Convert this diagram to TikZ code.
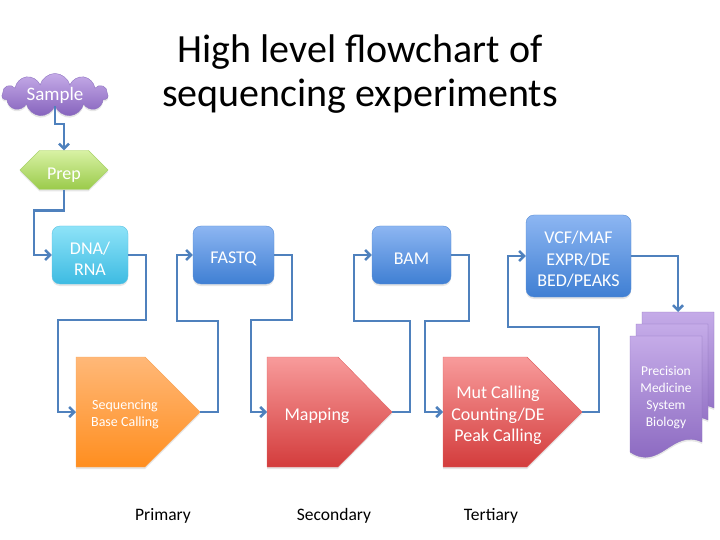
\documentclass[tikz,border=0pt]{standalone}
\usepackage{fontspec}
\setmainfont{Carlito}
\usepackage{xcolor}
\usepackage{tikz}
\usetikzlibrary{arrows.meta, positioning, calc, shapes.symbols, shadows}

\definecolor{linkblue}{HTML}{4F81BD}
\definecolor{cyanTop}{HTML}{8EE3F8}
\definecolor{cyanBot}{HTML}{3DBBE2}
\definecolor{cyanLine}{HTML}{5BC3E3}
\definecolor{blueTop}{HTML}{8DB6F2}
\definecolor{blueBot}{HTML}{3F7FD3}
\definecolor{blueLine}{HTML}{5A8FD6}
\definecolor{orangeTop}{HTML}{FFB878}
\definecolor{orangeBot}{HTML}{FF8E1F}
\definecolor{orangeLine}{HTML}{F9A659}
\definecolor{redTop}{HTML}{F89B9B}
\definecolor{redBot}{HTML}{D33C3C}
\definecolor{redLine}{HTML}{E06464}
\definecolor{purpleTop}{HTML}{C5ABE8}
\definecolor{purpleBot}{HTML}{8663BD}
\definecolor{purpleLine}{HTML}{8E73C0}
\definecolor{greenTop}{HTML}{D8F2A4}
\definecolor{greenBot}{HTML}{9ACB4A}
\definecolor{greenLine}{HTML}{A9D36A}

\begin{document}
\begin{tikzpicture}[x=1pt, y=-1pt,
			softshadow/.style={drop shadow={opacity=0.2, shadow xshift=0pt, shadow yshift=-2pt}},
			lowered/.style={execute at begin node={\rule{0pt}{#1}}},
			databox/.style={rectangle, rounded corners=8pt, minimum height=58pt, align=center,
				text=white, font=\fontsize{18}{21.6}\selectfont, lowered=19.6pt,
				draw=blueLine, top color=blueTop, bottom color=blueBot, softshadow},
			stagetext/.style={align=center, text=white, font=\fontsize{18}{21.6}\selectfont},
			doctext/.style={align=center, text=white, font=\fontsize{13.5}{16.8}\selectfont},
			stagelabel/.style={font=\fontsize{17.5}{21}\selectfont},
			link/.style={draw=linkblue, line width=2.5pt, -{Straight Barb[length=5pt, width=10pt]}},
			]
			\useasboundingbox (0,0) rectangle (720,540);
			
			% ---- title ----
			\node[align=center, font=\fontsize{40}{44}\selectfont] (title) at (360,74)
				{High level flowchart of\\sequencing experiments};
			
			% ---- sample and prep ----
			\node[cloud, cloud puffs=11, aspect=3, inner sep=0pt, minimum width=106pt, minimum height=36pt,
				draw=purpleLine, top color=purpleTop, bottom color=purpleBot, softshadow,
				text=white, font=\fontsize{19}{22}\selectfont] (sample) at (55,95) {Sample};
			\node[signal, signal to=east and west, signal pointer angle=90, minimum width=88pt, minimum height=39pt,
				draw=greenLine, top color=greenTop, bottom color=greenBot, softshadow, lowered=21.6pt,
				text=white, font=\fontsize{18}{21.6}\selectfont] (prep) at (64,170) {Prep};
			
			% ---- data boxes ----
			\node[databox, draw=cyanLine, top color=cyanTop, bottom color=cyanBot, minimum width=76pt] (dna) at (90,255)
				{\rule{0pt}{20pt}DNA/\\RNA};
			\node[databox, minimum width=81pt] (fastq) at (233.5,255) {FASTQ};
			\node[databox, minimum width=79pt] (bam) at (411.5,255) {BAM};
			\node[databox, minimum width=105pt, minimum height=82pt] (vcf) at (578.5,256)
				{\rule{0pt}{19pt}VCF/MAF\\EXPR/DE\\BED/PEAKS};
			
			% ---- processing stages ----
			\shade[top color=orangeTop, bottom color=orangeBot, draw=orangeLine, softshadow]
				(76,357) -- (145,357) -- (200,412) -- (145,467) -- (76,467) -- cycle;
			\shade[top color=redTop, bottom color=redBot, draw=redLine, softshadow]
				(267,357) -- (338,357) -- (392,412) -- (338,467) -- (267,467) -- cycle;
			\shade[top color=redTop, bottom color=redBot, draw=redLine, softshadow]
				(443,357) -- (527,357) -- (582,412) -- (527,467) -- (443,467) -- cycle;
			\coordinate (seq-in) at (76,412);
			\coordinate (seq-tip) at (200,412);
			\coordinate (map-in) at (267,412);
			\coordinate (map-tip) at (392,412);
			\coordinate (mut-in) at (443,412);
			\coordinate (mut-tip) at (582,412);
			\node[stagetext, font=\fontsize{14}{17}\selectfont] (seq) at (125,414.5) {Sequencing\\Base Calling};
			\node[stagetext] (map) at (317,416) {Mapping};
			\node[stagetext] (mut) at (498,415.5) {Mut Calling\\Counting/DE\\Peak Calling};
			
			% ---- result documents ----
			\shade[top color=purpleTop, bottom color=purpleBot, draw=purpleLine, softshadow]
				(642,312) -- (714,312) -- (714,408) .. controls (684,394) and (672,438) .. (642,418) -- cycle;
			\shade[top color=purpleTop, bottom color=purpleBot, draw=purpleLine, softshadow]
				(636,324) -- (708,324) -- (708,420) .. controls (678,406) and (666,450) .. (636,430) -- cycle;
			\shade[top color=purpleTop, bottom color=purpleBot, draw=purpleLine, softshadow]
				(630,336) -- (702,336) -- (702,442) .. controls (672,428) and (660,472) .. (630,452) -- cycle;
			\coordinate (doc-top) at (678,312);
			\node[doctext] (docs) at (666,397.5) {Precision\\Medicine\\System\\Biology};
			
			% ---- connectors ----
			\draw[link] (sample.south) -- ++(0,18) -| (prep.north);
			\draw[link] (prep.south) -- ++(0,21) -| ([xshift=-18pt]dna.west) -- (dna.west);
			\draw[link] (dna.east) -- ++(18,0) -- ++(0,65) -| ([xshift=-18pt]seq-in) -- (seq-in);
			\draw[link] (seq-tip) -- ++(18,0) -- ++(0,-91) -| ([xshift=-16pt]fastq.west) -- (fastq.west);
			\draw[link] (fastq.east) -- ++(18,0) -- ++(0,65) -| ([xshift=-16pt]map-in) -- (map-in);
			\draw[link] (map-tip) -- ++(18,0) -- ++(0,-91) -| ([xshift=-18pt]bam.west) -- (bam.west);
			\draw[link] (bam.east) -- ++(18,0) -- ++(0,66) -| ([xshift=-18pt]mut-in) -- (mut-in);
			\draw[link] (mut-tip) -- ++(17,0) -- ++(0,-85) -| ([xshift=-18pt]vcf.west) -- (vcf.west);
			\draw[link] (vcf.east) -| (doc-top);
			
			% ---- tiers ----
			\node[stagelabel] (primary) at (163,516) {Primary};
			\node[stagelabel] (secondary) at (334,516) {Secondary};
			\node[stagelabel] (tertiary) at (491,516) {Tertiary};
			
		\end{tikzpicture}
\end{document}
